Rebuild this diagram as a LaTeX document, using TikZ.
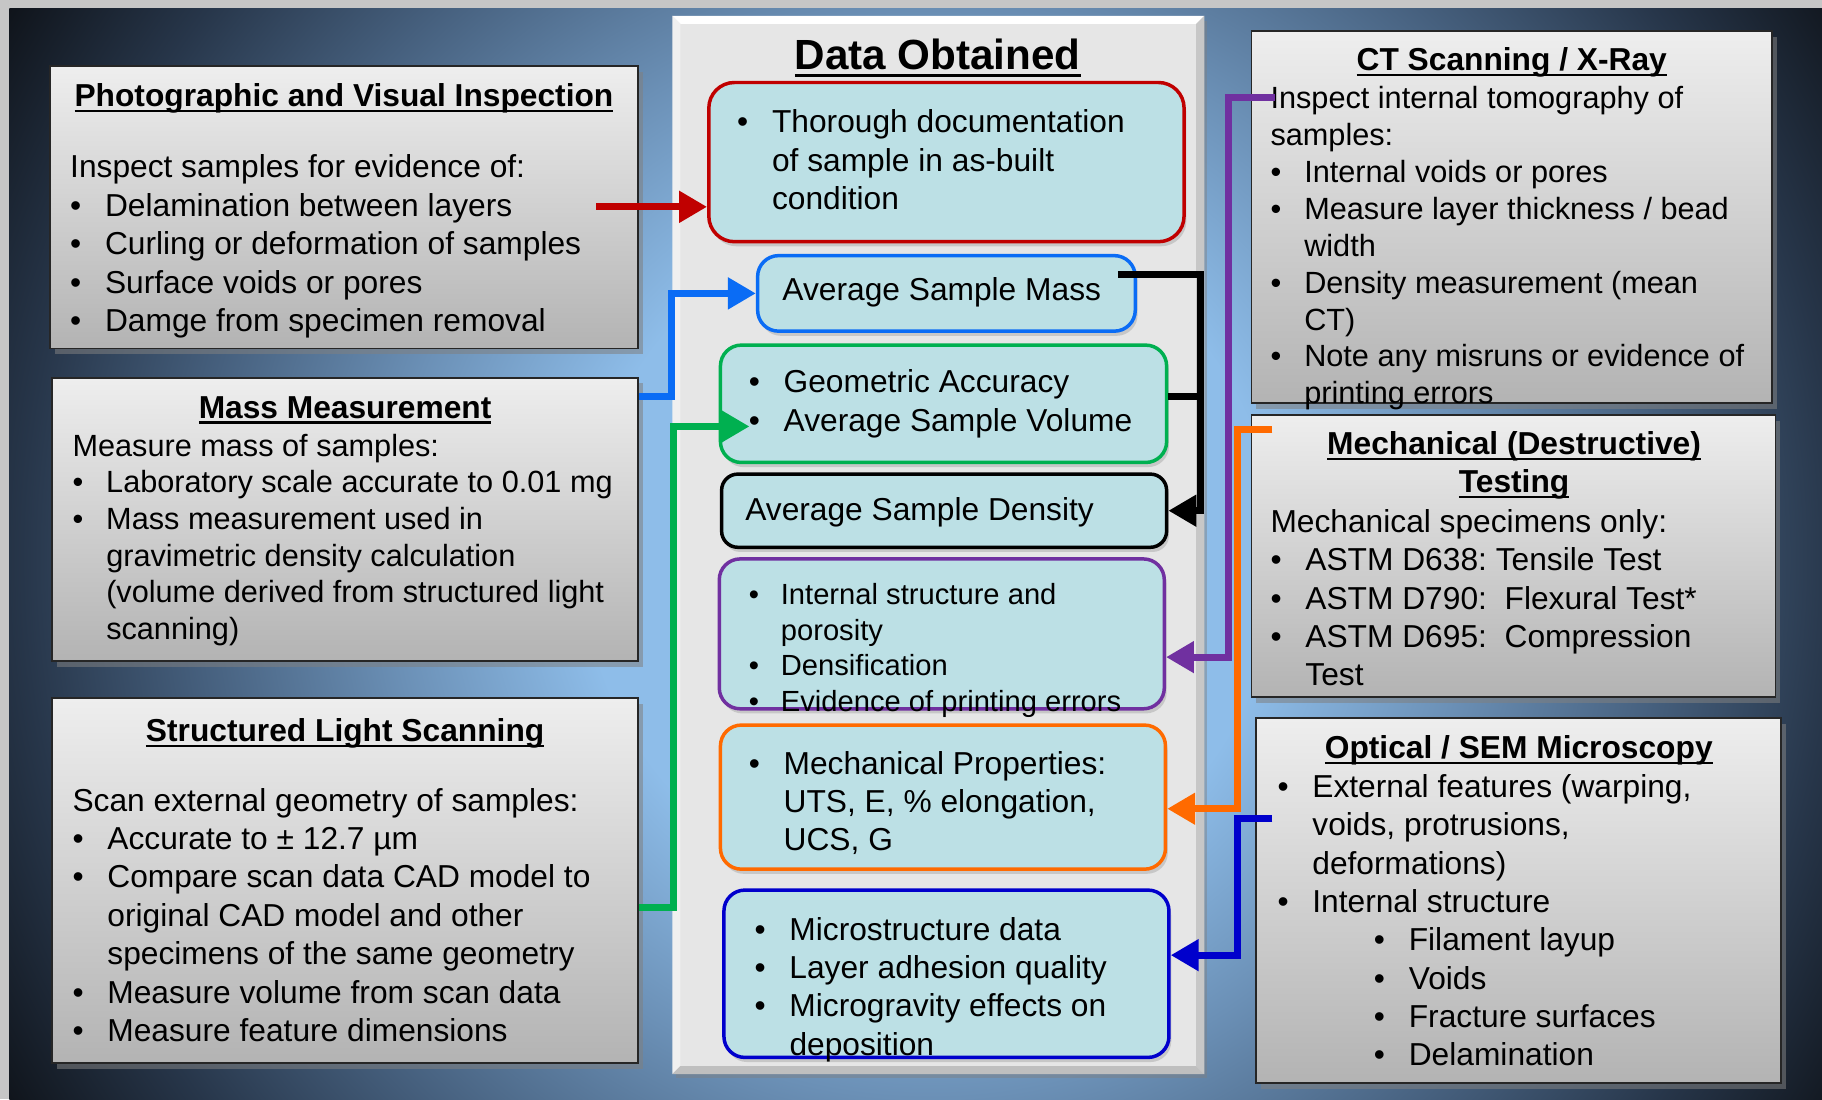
\documentclass[tikz,border=0pt]{standalone}
\usepackage{fontspec}
\setmainfont{Liberation Sans}
\usetikzlibrary{arrows.meta}
\usetikzlibrary{calc}
\usetikzlibrary{fit}
\usetikzlibrary{shadows}
\tikzset{>={Triangle[length=12pt,width=13pt]}}

\definecolor{bgA}{HTML}{8EBDE9}
\definecolor{bgB}{HTML}{6B90B6}
\definecolor{bgC}{HTML}{46607E}
\definecolor{bgD}{HTML}{27364A}
\definecolor{bgE}{HTML}{0E1218}
\definecolor{docred}{HTML}{C00000}
\definecolor{massblue}{HTML}{0A6CF5}
\definecolor{geogreen}{HTML}{00B050}
\definecolor{ctpurple}{HTML}{7030A0}
\definecolor{mechorange}{HTML}{FF6A00}
\definecolor{microblue}{HTML}{0000CC}
\definecolor{datafill}{HTML}{BCE0E5}
\definecolor{panelgray}{HTML}{E6E6E6}
\definecolor{boxtop}{HTML}{EEEEEE}
\definecolor{boxbot}{HTML}{B3B3B3}

\pgfdeclareradialshading{bgradial}{\pgfpoint{0bp}{0bp}}{%
  color(0bp)=(bgA); color(8bp)=(bgA); color(12.5bp)=(bgB);
  color(17bp)=(bgC); color(21bp)=(bgD); color(25bp)=(bgE); color(50bp)=(bgE)}

\newcommand\bul{\makebox[1.1em][l]{\textbullet}}
\newcommand\bcont{\hspace*{1.1em}}
\newcommand\ultext[1]{\setbox0\hbox{#1}\rlap{\rule[-0.17em]{\wd0}{0.07em}}\box0}

\begin{document}
\frenchspacing
\begin{tikzpicture}[x=0.5pt,y=-0.5pt,
  sidebox/.style={draw=black!85, line width=0.75pt, top color=boxtop, bottom color=boxbot,
    inner sep=0pt, drop shadow={shadow xshift=2pt, shadow yshift=-2.5pt, opacity=0.55}},
  panelbox/.style={fill=panelgray, inner sep=0pt,
    drop shadow={shadow xshift=1.5pt, shadow yshift=-2pt, opacity=0.45}},
  databox/.style={draw=#1, line width=1.5pt, fill=datafill, rounded corners=9pt, inner sep=0pt,
    drop shadow={shadow xshift=1pt, shadow yshift=-2pt, opacity=0.3}},
  conn/.style={draw=#1, line width=3pt, ->},
  headtext/.style={anchor=base, inner sep=0pt, font=\bfseries\fontsize{13.65pt}{16.5pt}\selectfont},
  bodytext/.style={anchor=north west, inner sep=0pt, align=left, font=\fontsize{13.65pt}{16.5pt}\selectfont}]
\useasboundingbox (0,0) rectangle (1568,946);
\fill[gray!45] (0,0) rectangle (1568,946);
\begin{scope}
  \clip (8,7) rectangle (1568,946);
  \shade[shading=bgradial] (800,480) circle (930);
\end{scope}

\node[panelbox, fit={(579,14) (1036,924)}] (panel) {};
\fill[white] (panel.north west) -- (panel.north east) -- ++(-7,7) -- ($(panel.north west)+(7,7)$) -- cycle;
\fill[black!6] (panel.north west) -- ++(7,7) -- ($(panel.south west)+(7,-7)$) -- (panel.south west) -- cycle;
\fill[black!22] (panel.north east) -- ++(-7,7) -- ($(panel.south east)+(-7,-7)$) -- (panel.south east) -- cycle;
\fill[black!25] (panel.south west) -- ++(7,-7) -- ($(panel.south east)+(-7,-7)$) -- (panel.south east) -- cycle;

\node[sidebox, fit={(43,57) (549,300)}] (photo) {};
\node[sidebox, fit={(45,325) (549,569)}] (mass) {};
\node[sidebox, fit={(45,601) (549,915)}] (sls) {};
\node[sidebox, fit={(1077,27) (1525,347)}] (ct) {};
\node[sidebox, fit={(1077,357) (1528,600)}] (mech) {};
\node[sidebox, fit={(1081,618) (1533,932)}] (optic) {};

\node[databox=docred, rounded corners=11pt, fit={(610,71) (1019,208)}] (doc) {};
\node[databox=massblue, fit={(652,220) (977,285)}] (avgmass) {};
\node[databox=geogreen, fit={(620,297) (1004,398)}] (geom) {};
\node[databox=black, rounded corners=7pt, fit={(621,408) (1004,471)}] (dens) {};
\node[databox=ctpurple, fit={(619,481) (1002,610)}] (intern) {};
\node[databox=mechorange, fit={(620,624) (1003,748)}] (mechprop) {};
\node[databox=microblue, fit={(623,766) (1006,910)}] (micro) {};

\node[headtext] (photohead) at (296,92) {\ultext{Photographic and Visual Inspection}};
\node[bodytext] (phototext) at (60,133) {Inspect samples for evidence of:\\
  \bul Delamination between layers\\ \bul Curling or deformation of samples\\
  \bul Surface voids or pores\\ \bul Damge from specimen removal};
\node[headtext] (masshead) at (297,360) {\ultext{Mass Measurement}};
\node[bodytext, font=\fontsize{13.2pt}{15.8pt}\selectfont] (masstext) at (62,373) {Measure mass of samples:\\
  \bul Laboratory scale accurate to 0.01 mg\\ \bul Mass measurement used in\\
  \bcont gravimetric density calculation\\ \bcont (volume derived from structured light\\ \bcont scanning)};
\node[headtext] (slshead) at (297,638) {\ultext{Structured Light Scanning}};
\node[bodytext] (slstext) at (62,678) {Scan external geometry of samples:\\
  \bul Accurate to ± 12.7 µm\\ \bul Compare scan data CAD model to\\
  \bcont original CAD model and other\\ \bcont specimens of the same geometry\\
  \bul Measure volume from scan data\\ \bul Measure feature dimensions};

\node[headtext, font=\bfseries\fontsize{18.15pt}{22pt}\selectfont] (paneltitle) at (807,60) {\ultext{Data Obtained}};
\node[bodytext] (doctext) at (634,94) {\bul Thorough documentation\\ \bcont of sample in as-built\\ \bcont condition};
\node[bodytext, anchor=base west] (masslabel) at (673,259) {Average Sample Mass};
\node[bodytext] (geomtext) at (644,318) {\bul Geometric Accuracy\\ \bul Average Sample Volume};
\node[bodytext, anchor=base west] (denslabel) at (641,448) {Average Sample Density};
\node[bodytext, font=\fontsize{12.55pt}{15.25pt}\selectfont] (interntext) at (644,502) {\bul Internal structure and\\
  \bcont porosity\\ \bul Densification\\ \bul Evidence of printing errors};
\node[bodytext] (mechproptext) at (644,646) {\bul Mechanical Properties:\\ \bcont UTS, E, \% elongation,\\ \bcont UCS, G};
\node[bodytext] (microtext) at (649,789) {\bul Microstructure data\\ \bul Layer adhesion quality\\
  \bul Microgravity effects on\\ \bcont deposition};

\node[headtext] (cthead) at (1301,61) {\ultext{CT Scanning / X-Ray}};
\node[bodytext, font=\fontsize{13.2pt}{15.875pt}\selectfont] (cttext) at (1093,74) {Inspect internal tomography of\\ samples:\\
  \bul Internal voids or pores\\ \bul Measure layer thickness / bead\\ \bcont width\\
  \bul Density measurement (mean\\ \bcont CT)\\ \bul Note any misruns or evidence of\\ \bcont printing errors};
\node[headtext, anchor=north, align=center] (mechhead) at (1303,371) {\ultext{Mechanical (Destructive)}\\ \ultext{Testing}};
\node[bodytext] (mechtext) at (1093,438) {Mechanical specimens only:\\
  \bul ASTM D638: Tensile Test\\ \bul ASTM D790:\ \ Flexural Test*\\
  \bul ASTM D695:\ \ Compression\\ \bcont Test};
\node[headtext] (optichead) at (1307,653) {\ultext{Optical / SEM Microscopy}};
\node[bodytext] (optictext) at (1099,666) {\bul External features (warping,\\ \bcont voids, protrusions,\\
  \bcont deformations)\\ \bul Internal structure\\ \hspace*{41.5pt}\bul Filament layup\\
  \hspace*{41.5pt}\bul Voids\\ \hspace*{41.5pt}\bul Fracture surfaces\\ \hspace*{41.5pt}\bul Delamination};

\coordinate (redstart) at (513,178);
\coordinate (blkstart) at (962,236);
\coordinate (blkturn) at (1033,236);
\coordinate (greenend) at (645,367);
\coordinate (purstart) at (1097,84);
\coordinate (orstart) at (1095,370);
\coordinate (micstart) at (1095,704);

\draw[conn=docred] (redstart) -- (redstart -| doc.west);
\draw[conn=massblue] (mass.east |- 0,341) -- ++(28,0) |- (avgmass.west);
\draw[conn=geogreen] (sls.east |- 0,781) -- ++(30,0) |- (greenend);
\draw[conn=black, -] (geom.east |- 0,341) -- (blkturn |- 0,341);
\draw[conn=black] (blkstart) -- (blkturn) |- (dens.east);
\draw[conn=ctpurple] (purstart) -- ++(-40,0) |- ($(intern.east)+(0,20)$);
\draw[conn=mechorange] (orstart) -- ++(-30,0) |- ($(mechprop.east)+(0,10)$);
\draw[conn=microblue] (micstart) -- ++(-30,0) |- ($(micro.east)+(0,-16)$);
\end{tikzpicture}
\end{document}
